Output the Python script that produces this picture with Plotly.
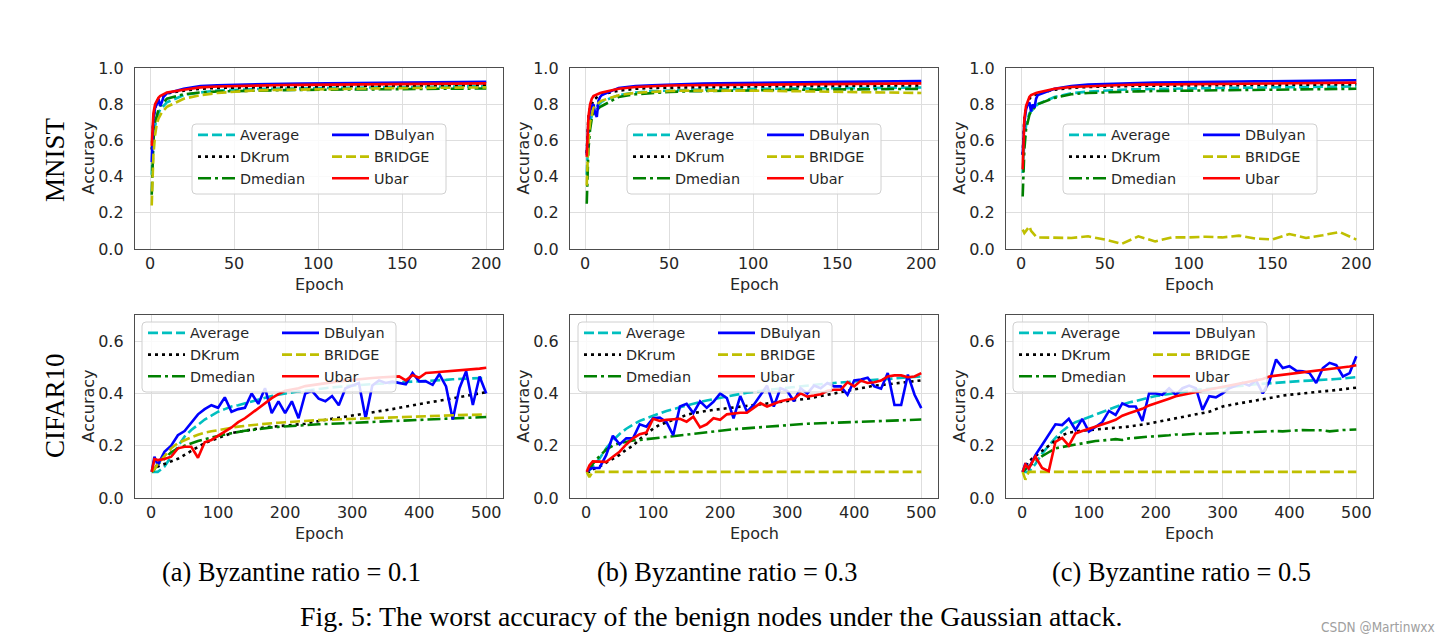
import plotly.graph_objects as go

W, H = 1456, 643

# ---------------- data ----------------
METHODS = ["Average", "DKrum", "Dmedian", "DBulyan", "BRIDGE", "Ubar"]

MNIST_EPOCHS = [1, 2, 3, 4, 5, 6, 7, 8, 9, 10, 20, 30, 40, 50, 60, 70, 80, 90, 100,
                110, 120, 130, 140, 150, 160, 170, 180, 190, 200]
MNIST_XTICKS = [0, 50, 100, 150, 200]
MNIST_YTICKS = [0.0, 0.2, 0.4, 0.6, 0.8, 1.0]

CIFAR_EPOCHS = [1, 5, 10, 20, 30, 40, 50, 60, 70, 80, 90, 100,
                110, 120, 130, 140, 150, 160, 170, 180, 190, 200,
                210, 220, 230, 240, 250, 260, 270, 280, 290, 300,
                310, 320, 330, 340, 350, 360, 370, 380, 390, 400,
                410, 420, 430, 440, 450, 460, 470, 480, 490, 500]
CIFAR_XTICKS = [0, 100, 200, 300, 400, 500]
CIFAR_YTICKS = [0.0, 0.2, 0.4, 0.6]

# MNIST, Byzantine ratio 0.1
M1_AVG = [0.41, 0.60, 0.68, 0.72, 0.75, 0.77, 0.78, 0.79, 0.80, 0.81,
          0.85, 0.865, 0.875, 0.88, 0.883, 0.885, 0.887, 0.888, 0.89, 0.89,
          0.891, 0.892, 0.893, 0.894, 0.895, 0.896, 0.897, 0.898, 0.90]
M1_KRUM = [0.55, 0.72, 0.78, 0.81, 0.83, 0.84, 0.845, 0.85, 0.855, 0.86,
           0.875, 0.885, 0.89, 0.892, 0.894, 0.895, 0.896, 0.897, 0.898, 0.899,
           0.90, 0.90, 0.901, 0.902, 0.902, 0.903, 0.903, 0.904, 0.905]
M1_MED = [0.30, 0.60, 0.70, 0.74, 0.77, 0.79, 0.80, 0.81, 0.82, 0.83,
          0.855, 0.865, 0.87, 0.873, 0.875, 0.877, 0.878, 0.879, 0.88, 0.881,
          0.882, 0.882, 0.883, 0.884, 0.884, 0.885, 0.885, 0.886, 0.887]
M1_BUL = [0.48, 0.72, 0.78, 0.80, 0.83, 0.79, 0.81, 0.84, 0.85, 0.86,
          0.885, 0.90, 0.905, 0.908, 0.91, 0.912, 0.913, 0.914, 0.915, 0.916,
          0.917, 0.918, 0.919, 0.92, 0.92, 0.921, 0.922, 0.923, 0.924]
M1_BRI = [0.24, 0.52, 0.63, 0.69, 0.72, 0.74, 0.755, 0.765, 0.775, 0.785,
          0.83, 0.85, 0.862, 0.87, 0.875, 0.878, 0.88, 0.882, 0.884, 0.885,
          0.886, 0.887, 0.888, 0.889, 0.89, 0.89, 0.891, 0.892, 0.893]
M1_UBAR = [0.57, 0.75, 0.80, 0.82, 0.835, 0.845, 0.85, 0.855, 0.86, 0.865,
           0.88, 0.893, 0.898, 0.901, 0.903, 0.905, 0.906, 0.907, 0.908, 0.909,
           0.91, 0.91, 0.911, 0.912, 0.912, 0.913, 0.913, 0.914, 0.915]

# MNIST, Byzantine ratio 0.3
M2_AVG = [0.41, 0.62, 0.70, 0.74, 0.77, 0.78, 0.79, 0.80, 0.81, 0.815,
          0.85, 0.865, 0.872, 0.876, 0.879, 0.881, 0.883, 0.884, 0.885, 0.886,
          0.887, 0.888, 0.888, 0.889, 0.889, 0.89, 0.89, 0.891, 0.892]
M2_KRUM = [0.53, 0.73, 0.78, 0.80, 0.82, 0.83, 0.84, 0.845, 0.85, 0.855,
           0.875, 0.885, 0.89, 0.892, 0.894, 0.895, 0.896, 0.897, 0.898, 0.899,
           0.90, 0.90, 0.901, 0.901, 0.902, 0.902, 0.903, 0.903, 0.904]
M2_MED = [0.25, 0.55, 0.66, 0.72, 0.75, 0.76, 0.77, 0.78, 0.785, 0.79,
          0.84, 0.855, 0.863, 0.868, 0.871, 0.873, 0.875, 0.876, 0.877, 0.878,
          0.879, 0.88, 0.88, 0.881, 0.882, 0.882, 0.883, 0.884, 0.885]
M2_BUL = [0.52, 0.70, 0.76, 0.79, 0.80, 0.75, 0.73, 0.82, 0.84, 0.85,
          0.89, 0.90, 0.905, 0.909, 0.912, 0.914, 0.915, 0.917, 0.918, 0.919,
          0.92, 0.921, 0.922, 0.923, 0.924, 0.925, 0.926, 0.927, 0.928]
M2_BRI = [0.35, 0.60, 0.70, 0.75, 0.78, 0.79, 0.80, 0.81, 0.815, 0.82,
          0.85, 0.863, 0.87, 0.873, 0.875, 0.876, 0.876, 0.875, 0.875, 0.874,
          0.874, 0.873, 0.872, 0.871, 0.87, 0.868, 0.866, 0.864, 0.862]
M2_UBAR = [0.51, 0.73, 0.80, 0.83, 0.845, 0.85, 0.855, 0.86, 0.862, 0.865,
           0.885, 0.895, 0.90, 0.903, 0.905, 0.906, 0.907, 0.908, 0.909, 0.91,
           0.91, 0.911, 0.912, 0.912, 0.913, 0.913, 0.914, 0.914, 0.915]

# MNIST, Byzantine ratio 0.5
M3_AVG = [0.42, 0.60, 0.68, 0.72, 0.75, 0.76, 0.77, 0.78, 0.79, 0.80,
          0.84, 0.86, 0.87, 0.876, 0.88, 0.883, 0.885, 0.887, 0.888, 0.889,
          0.89, 0.891, 0.892, 0.893, 0.894, 0.895, 0.896, 0.897, 0.898]
M3_KRUM = [0.52, 0.72, 0.78, 0.81, 0.83, 0.84, 0.845, 0.85, 0.855, 0.86,
           0.88, 0.89, 0.895, 0.898, 0.90, 0.901, 0.902, 0.903, 0.904, 0.905,
           0.905, 0.906, 0.906, 0.907, 0.907, 0.908, 0.908, 0.909, 0.91]
M3_MED = [0.29, 0.55, 0.66, 0.71, 0.74, 0.76, 0.77, 0.78, 0.79, 0.80,
          0.835, 0.855, 0.862, 0.866, 0.869, 0.871, 0.873, 0.874, 0.875, 0.876,
          0.877, 0.878, 0.879, 0.88, 0.881, 0.882, 0.883, 0.884, 0.885]
M3_BUL = [0.52, 0.70, 0.77, 0.80, 0.81, 0.76, 0.80, 0.78, 0.83, 0.85,
          0.885, 0.90, 0.908, 0.912, 0.915, 0.917, 0.919, 0.921, 0.922, 0.923,
          0.924, 0.925, 0.926, 0.927, 0.928, 0.929, 0.93, 0.931, 0.932]
M3_BRI = [0.107, 0.088, 0.10, 0.11, 0.125, 0.10, 0.09, 0.075, 0.068, 0.064,
          0.064, 0.061, 0.07, 0.052, 0.028, 0.07, 0.042, 0.064, 0.064, 0.068,
          0.064, 0.074, 0.057, 0.053, 0.083, 0.061, 0.076, 0.094, 0.052]
M3_UBAR = [0.44, 0.72, 0.79, 0.82, 0.84, 0.85, 0.855, 0.86, 0.862, 0.865,
           0.885, 0.895, 0.90, 0.903, 0.906, 0.908, 0.909, 0.91, 0.911, 0.912,
           0.913, 0.914, 0.914, 0.915, 0.916, 0.916, 0.917, 0.918, 0.919]

# CIFAR10, Byzantine ratio 0.1
C1_AVG = [0.10, 0.10,
          0.10, 0.12, 0.16, 0.20, 0.235, 0.26, 0.28, 0.30, 0.315, 0.33,
          0.34, 0.35, 0.355, 0.362, 0.37, 0.378, 0.385, 0.39, 0.395, 0.40,
          0.404, 0.408, 0.41, 0.414, 0.417, 0.42, 0.423, 0.426, 0.428, 0.43,
          0.432, 0.434, 0.436, 0.438, 0.44, 0.442, 0.443, 0.444, 0.445, 0.446,
          0.448, 0.45, 0.451, 0.452, 0.454, 0.455, 0.457, 0.458, 0.459, 0.46]
C1_KRUM = [0.10, 0.11,
           0.12, 0.13, 0.14, 0.15, 0.165, 0.18, 0.195, 0.21, 0.22, 0.23,
           0.24, 0.248, 0.253, 0.258, 0.262, 0.266, 0.27, 0.272, 0.274, 0.277,
           0.279, 0.281, 0.284, 0.29, 0.295, 0.30, 0.303, 0.307, 0.311, 0.315,
           0.319, 0.322, 0.326, 0.33, 0.335, 0.34, 0.345, 0.35, 0.355, 0.36,
           0.364, 0.368, 0.372, 0.377, 0.382, 0.387, 0.391, 0.396, 0.40, 0.405]
C1_MED = [0.10, 0.11,
          0.13, 0.15, 0.175, 0.19, 0.20, 0.21, 0.218, 0.225, 0.232, 0.238,
          0.243, 0.248, 0.253, 0.257, 0.26, 0.264, 0.267, 0.27, 0.272, 0.274,
          0.276, 0.278, 0.279, 0.28, 0.282, 0.283, 0.284, 0.285, 0.286, 0.288,
          0.289, 0.29, 0.291, 0.292, 0.293, 0.294, 0.295, 0.296, 0.297, 0.298,
          0.299, 0.30, 0.301, 0.302, 0.303, 0.304, 0.305, 0.306, 0.308, 0.31]
C1_BUL = [0.10, 0.158,
          0.126, 0.177, 0.20, 0.24, 0.256, 0.29, 0.32, 0.34, 0.355, 0.345,
          0.385, 0.33, 0.34, 0.345, 0.40, 0.36, 0.42, 0.325, 0.37, 0.325,
          0.37, 0.305, 0.40, 0.41, 0.38, 0.37, 0.39, 0.355, 0.42, 0.43,
          0.44, 0.305, 0.43, 0.45, 0.44, 0.445, 0.44, 0.435, 0.478, 0.446,
          0.446, 0.433, 0.474, 0.427, 0.30, 0.42, 0.485, 0.356, 0.465, 0.40]
C1_BRI = [0.10, 0.11,
          0.13, 0.16, 0.19, 0.21, 0.222, 0.232, 0.242, 0.25, 0.255, 0.26,
          0.265, 0.27, 0.273, 0.276, 0.279, 0.282, 0.284, 0.286, 0.288, 0.29,
          0.292, 0.293, 0.295, 0.296, 0.298, 0.299, 0.30, 0.301, 0.302, 0.303,
          0.304, 0.305, 0.306, 0.307, 0.308, 0.309, 0.31, 0.311, 0.311, 0.312,
          0.313, 0.314, 0.315, 0.315, 0.316, 0.317, 0.318, 0.318, 0.319, 0.32]
C1_UBAR = [0.10, 0.149,
           0.145, 0.149, 0.158, 0.19, 0.196, 0.196, 0.154, 0.213, 0.222, 0.238,
           0.254, 0.27, 0.29, 0.305, 0.324, 0.344, 0.363, 0.382, 0.397, 0.41,
           0.415, 0.42, 0.428, 0.432, 0.436, 0.44, 0.443, 0.446, 0.449, 0.452,
           0.455, 0.457, 0.459, 0.461, 0.463, 0.465, 0.465, 0.45, 0.47, 0.46,
           0.478, 0.48, 0.482, 0.483, 0.485, 0.487, 0.49, 0.492, 0.495, 0.498]

# CIFAR10, Byzantine ratio 0.3
C2_AVG = [0.10, 0.105,
          0.12, 0.15, 0.19, 0.22, 0.245, 0.265, 0.28, 0.295, 0.305, 0.315,
          0.325, 0.333, 0.34, 0.347, 0.355, 0.36, 0.367, 0.373, 0.378, 0.385,
          0.39, 0.395, 0.40, 0.403, 0.406, 0.41, 0.413, 0.416, 0.419, 0.422,
          0.425, 0.428, 0.43, 0.433, 0.435, 0.438, 0.44, 0.442, 0.444, 0.446,
          0.448, 0.45, 0.451, 0.453, 0.455, 0.457, 0.459, 0.461, 0.463, 0.465]
C2_KRUM = [0.10, 0.10,
           0.11, 0.12, 0.135, 0.15, 0.165, 0.185, 0.20, 0.225, 0.245, 0.265,
           0.28, 0.29, 0.30, 0.31, 0.318, 0.325, 0.33, 0.333, 0.337, 0.34,
           0.343, 0.345, 0.348, 0.35, 0.353, 0.356, 0.36, 0.363, 0.367, 0.37,
           0.373, 0.377, 0.38, 0.385, 0.39, 0.395, 0.40, 0.405, 0.41, 0.415,
           0.42, 0.425, 0.43, 0.432, 0.435, 0.438, 0.44, 0.443, 0.447, 0.45]
C2_MED = [0.10, 0.11,
          0.13, 0.16, 0.185, 0.20, 0.21, 0.215, 0.22, 0.222, 0.225, 0.228,
          0.23, 0.233, 0.237, 0.24, 0.243, 0.247, 0.25, 0.253, 0.255, 0.258,
          0.26, 0.263, 0.265, 0.267, 0.27, 0.272, 0.274, 0.276, 0.278, 0.28,
          0.281, 0.282, 0.284, 0.285, 0.286, 0.287, 0.288, 0.29, 0.29, 0.291,
          0.292, 0.293, 0.294, 0.294, 0.295, 0.296, 0.297, 0.298, 0.299, 0.30]
C2_BUL = [0.10, 0.11,
          0.115, 0.115, 0.164, 0.238, 0.205, 0.228, 0.228, 0.282, 0.273, 0.305,
          0.308, 0.29, 0.24, 0.35, 0.36, 0.325, 0.37, 0.345, 0.368, 0.40,
          0.382, 0.305, 0.39, 0.33, 0.356, 0.395, 0.43, 0.35, 0.42, 0.41,
          0.37, 0.42, 0.40, 0.43, 0.42, 0.44, 0.427, 0.427, 0.395, 0.45,
          0.453, 0.46, 0.427, 0.418, 0.478, 0.356, 0.356, 0.472, 0.395, 0.344]
C2_BRI = [0.10, 0.08,
          0.10, 0.10, 0.10, 0.10, 0.10, 0.10, 0.10, 0.10, 0.10, 0.10,
          0.10, 0.10, 0.10, 0.10, 0.10, 0.10, 0.10, 0.10, 0.10, 0.10,
          0.10, 0.10, 0.10, 0.10, 0.10, 0.10, 0.10, 0.10, 0.10, 0.10,
          0.10, 0.10, 0.10, 0.10, 0.10, 0.10, 0.10, 0.10, 0.10, 0.10,
          0.10, 0.10, 0.10, 0.10, 0.10, 0.10, 0.10, 0.10, 0.10, 0.10]
C2_UBAR = [0.10, 0.125,
           0.14, 0.138, 0.138, 0.158, 0.177, 0.205, 0.228, 0.244, 0.25, 0.303,
           0.295, 0.299, 0.30, 0.303, 0.292, 0.311, 0.27, 0.282, 0.305, 0.299,
           0.32, 0.324, 0.326, 0.326, 0.344, 0.363, 0.35, 0.36, 0.37, 0.376,
           0.38, 0.40, 0.388, 0.392, 0.397, 0.41, 0.414, 0.414, 0.443, 0.427,
           0.449, 0.44, 0.443, 0.449, 0.465, 0.469, 0.469, 0.462, 0.465, 0.478]

# CIFAR10, Byzantine ratio 0.5
C3_AVG = [0.10, 0.10,
          0.10, 0.13, 0.17, 0.20, 0.23, 0.255, 0.275, 0.29, 0.30, 0.31,
          0.32, 0.33, 0.34, 0.35, 0.358, 0.365, 0.372, 0.378, 0.385, 0.39,
          0.394, 0.398, 0.402, 0.406, 0.41, 0.413, 0.416, 0.418, 0.42, 0.423,
          0.425, 0.428, 0.43, 0.432, 0.435, 0.437, 0.44, 0.442, 0.443, 0.445,
          0.446, 0.448, 0.449, 0.45, 0.452, 0.453, 0.455, 0.457, 0.459, 0.462]
C3_KRUM = [0.10, 0.12,
           0.14, 0.16, 0.18, 0.20, 0.22, 0.24, 0.25, 0.255, 0.258, 0.26,
           0.262, 0.264, 0.266, 0.268, 0.27, 0.273, 0.277, 0.28, 0.285, 0.29,
           0.295, 0.30, 0.305, 0.31, 0.315, 0.32, 0.325, 0.33, 0.34, 0.35,
           0.355, 0.36, 0.365, 0.37, 0.375, 0.378, 0.382, 0.388, 0.392, 0.395,
           0.398, 0.40, 0.403, 0.405, 0.408, 0.41, 0.413, 0.416, 0.42, 0.422]
C3_MED = [0.10, 0.11,
          0.12, 0.14, 0.16, 0.175, 0.19, 0.195, 0.20, 0.205, 0.21, 0.215,
          0.218, 0.22, 0.223, 0.225, 0.222, 0.228, 0.23, 0.233, 0.235, 0.236,
          0.237, 0.24, 0.243, 0.242, 0.244, 0.246, 0.245, 0.246, 0.247, 0.25,
          0.25, 0.252, 0.251, 0.252, 0.253, 0.254, 0.255, 0.256, 0.255, 0.257,
          0.258, 0.26, 0.259, 0.258, 0.259, 0.255, 0.258, 0.26, 0.261, 0.262]
C3_BUL = [0.10, 0.132,
          0.113, 0.164, 0.203, 0.241, 0.282, 0.279, 0.303, 0.26, 0.303, 0.254,
          0.273, 0.29, 0.333, 0.318, 0.362, 0.35, 0.35, 0.295, 0.40, 0.40,
          0.395, 0.42, 0.395, 0.42, 0.43, 0.42, 0.337, 0.389, 0.385, 0.40,
          0.42, 0.43, 0.44, 0.43, 0.45, 0.40, 0.446, 0.53, 0.497, 0.504,
          0.487, 0.485, 0.478, 0.44, 0.497, 0.517, 0.508, 0.465, 0.478, 0.542]
C3_BRI = [0.10, 0.07,
          0.10, 0.10, 0.10, 0.10, 0.10, 0.10, 0.10, 0.10, 0.10, 0.10,
          0.10, 0.10, 0.10, 0.10, 0.10, 0.10, 0.10, 0.10, 0.10, 0.10,
          0.10, 0.10, 0.10, 0.10, 0.10, 0.10, 0.10, 0.10, 0.10, 0.10,
          0.10, 0.10, 0.10, 0.10, 0.10, 0.10, 0.10, 0.10, 0.10, 0.10,
          0.10, 0.10, 0.10, 0.10, 0.10, 0.10, 0.10, 0.10, 0.10, 0.10]
C3_UBAR = [0.10, 0.128,
           0.113, 0.158, 0.115, 0.103, 0.215, 0.23, 0.20, 0.247, 0.256, 0.264,
           0.273, 0.28, 0.29, 0.299, 0.315, 0.324, 0.333, 0.341, 0.354, 0.362,
           0.372, 0.38, 0.389, 0.395, 0.40, 0.405, 0.41, 0.415, 0.42, 0.425,
           0.43, 0.435, 0.44, 0.445, 0.45, 0.455, 0.465, 0.468, 0.472, 0.475,
           0.478, 0.48, 0.483, 0.486, 0.489, 0.492, 0.495, 0.499, 0.503, 0.508]

ROW_LABELS = ["MNIST", "CIFAR10"]
COL_CAPTIONS = ["(a) Byzantine ratio = 0.1", "(b) Byzantine ratio = 0.3",
                "(c) Byzantine ratio = 0.5"]
FIG_CAPTION = "Fig. 5: The worst accuracy of the benign nodes under the Gaussian attack."
WATERMARK = "CSDN @Martinwxx"

# ---------------- styling ----------------
STYLE = {
    "Average": dict(color="#00BFBF", dash="10px,4px"),
    "DKrum": dict(color="#000000", dash="3px,4px"),
    "Dmedian": dict(color="#008000", dash="13px,4px,3px,4px"),
    "DBulyan": dict(color="#0000FF", dash="solid"),
    "BRIDGE": dict(color="#BFBF00", dash="10px,4px"),
    "Ubar": dict(color="#FF0000", dash="solid"),
}

PANELS = [
    (MNIST_EPOCHS, [M1_AVG, M1_KRUM, M1_MED, M1_BUL, M1_BRI, M1_UBAR]),
    (MNIST_EPOCHS, [M2_AVG, M2_KRUM, M2_MED, M2_BUL, M2_BRI, M2_UBAR]),
    (MNIST_EPOCHS, [M3_AVG, M3_KRUM, M3_MED, M3_BUL, M3_BRI, M3_UBAR]),
    (CIFAR_EPOCHS, [C1_AVG, C1_KRUM, C1_MED, C1_BUL, C1_BRI, C1_UBAR]),
    (CIFAR_EPOCHS, [C2_AVG, C2_KRUM, C2_MED, C2_BUL, C2_BRI, C2_UBAR]),
    (CIFAR_EPOCHS, [C3_AVG, C3_KRUM, C3_MED, C3_BUL, C3_BRI, C3_UBAR]),
]

COL_PX = [(135, 503), (570, 938), (1006, 1373)]
ROW_PX = [(68, 249), (315, 498)]
LEGEND_BOX = [(192, 124), (627, 124), (1063, 124), (142, 322), (578, 322), (1013, 322)]
BOX_W, BOX_H = 254, 70

TICK_FONT = dict(family="DejaVu Sans", size=16, color="#262626")
SPINE = "#4d4d4d"
GRID = "#dedede"

def px_x(p):
    return p / W

def px_y(p):
    return 1 - p / H

fig = go.Figure()
layout = dict(width=W, height=H,
              margin=dict(l=0, r=0, t=0, b=0, pad=0, autoexpand=False),
              paper_bgcolor="white", plot_bgcolor="white", showlegend=True)
annotations = []
shapes = []

def ann(text, x, y, size, family="DejaVu Sans", angle=0, color="#262626"):
    annotations.append(dict(text=text, x=px_x(x), y=px_y(y), xref="paper", yref="paper",
                            xanchor="center", yanchor="middle", showarrow=False,
                            textangle=angle,
                            font=dict(family=family, size=size, color=color)))

for k, (epochs, series) in enumerate(PANELS):
    row, col = divmod(k, 3)
    ax = "" if k == 0 else str(k + 1)
    x0, x1 = COL_PX[col]
    y0, y1 = ROW_PX[row]
    is_mnist = row == 0
    xmin, xmax = epochs[0], epochs[-1]
    pad = 0.05 * (xmax - xmin)
    layout["xaxis" + ax] = dict(
        domain=[px_x(x0), px_x(x1)], anchor="y" + ax,
        range=[xmin - pad, xmax + pad],
        tickvals=MNIST_XTICKS if is_mnist else CIFAR_XTICKS,
        tickfont=TICK_FONT, showgrid=True, gridcolor=GRID, gridwidth=1,
        zeroline=False, showline=True, mirror=True, linecolor=SPINE, linewidth=1.3,
        ticks="", ticklabelstandoff=0, automargin=False,
    )
    layout["yaxis" + ax] = dict(
        domain=[px_y(y1), px_y(y0)], anchor="x" + ax,
        range=[0, 1.0] if is_mnist else [0, 0.7],
        tickvals=MNIST_YTICKS if is_mnist else CIFAR_YTICKS,
        tickformat=".1f",
        tickfont=TICK_FONT, showgrid=True, gridcolor=GRID, gridwidth=1,
        zeroline=False, showline=True, mirror=True, linecolor=SPINE, linewidth=1.3,
        ticks="", ticklabelstandoff=7, automargin=False,
    )
    leg_a = "legend" if 2 * k + 1 == 1 else f"legend{2 * k + 1}"
    leg_b = f"legend{2 * k + 2}"
    for i, (name, ys) in enumerate(zip(METHODS, series)):
        st = STYLE[name]
        fig.add_trace(go.Scatter(
            x=epochs, y=ys, mode="lines", name=name,
            line=dict(color=st["color"], dash=st["dash"], width=2.6),
            xaxis="x" + ax, yaxis="y" + ax,
            legend=leg_a if i < 3 else leg_b,
        ))
    bl, bt = LEGEND_BOX[k]
    for j, leg in enumerate([leg_a, leg_b]):
        layout[leg] = dict(
            x=px_x(bl + 1 + 134 * j), y=px_y(bt - 5), xanchor="left", yanchor="top",
            bgcolor="rgba(0,0,0,0)", borderwidth=0,
            font=dict(family="DejaVu Sans", size=14.4, color="#262626"),
            itemwidth=37, tracegroupgap=0,
        )
    # legend frame (rounded), drawn over the lines
    r = 4
    L, R, T, B = bl, bl + BOX_W, bt, bt + BOX_H
    path = (f"M {px_x(L + r)},{px_y(T)} L {px_x(R - r)},{px_y(T)} "
            f"Q {px_x(R)},{px_y(T)} {px_x(R)},{px_y(T + r)} "
            f"L {px_x(R)},{px_y(B - r)} Q {px_x(R)},{px_y(B)} {px_x(R - r)},{px_y(B)} "
            f"L {px_x(L + r)},{px_y(B)} Q {px_x(L)},{px_y(B)} {px_x(L)},{px_y(B - r)} "
            f"L {px_x(L)},{px_y(T + r)} Q {px_x(L)},{px_y(T)} {px_x(L + r)},{px_y(T)} Z")
    shapes.append(dict(type="path", path=path, xref="paper", yref="paper",
                       fillcolor="rgba(255,255,255,0.85)",
                       line=dict(color="#d0d0d0", width=1), layer="above"))
    # axis titles
    ann("Epoch", (x0 + x1) / 2, y1 + 35, 16)
    ann("Accuracy", x0 - 47, (y0 + y1) / 2, 16, angle=-90)

ann(ROW_LABELS[0], 55, 160, 27, family="Liberation Serif", color="#000000", angle=-90)
ann(ROW_LABELS[1], 55, 406, 27, family="Liberation Serif", color="#000000", angle=-90)

for col, cap in enumerate(COL_CAPTIONS):
    ann(cap, [291, 727, 1181][col], 572, 26.4, family="Liberation Serif", color="#000000")

ann(FIG_CAPTION, 711, 616, 27.8, family="Liberation Serif", color="#000000")
ann(WATERMARK, 1378, 627, 13.5, family="DejaVu Sans Condensed, DejaVu Sans", color="#a0a0a0")

layout["annotations"] = annotations
layout["shapes"] = shapes
fig.update_layout(**layout)

fig.write_html("out.html", include_plotlyjs=True,
               config={"displayModeBar": False},
               post_script="document.body.style.margin='0';document.body.style.overflow='hidden';")
